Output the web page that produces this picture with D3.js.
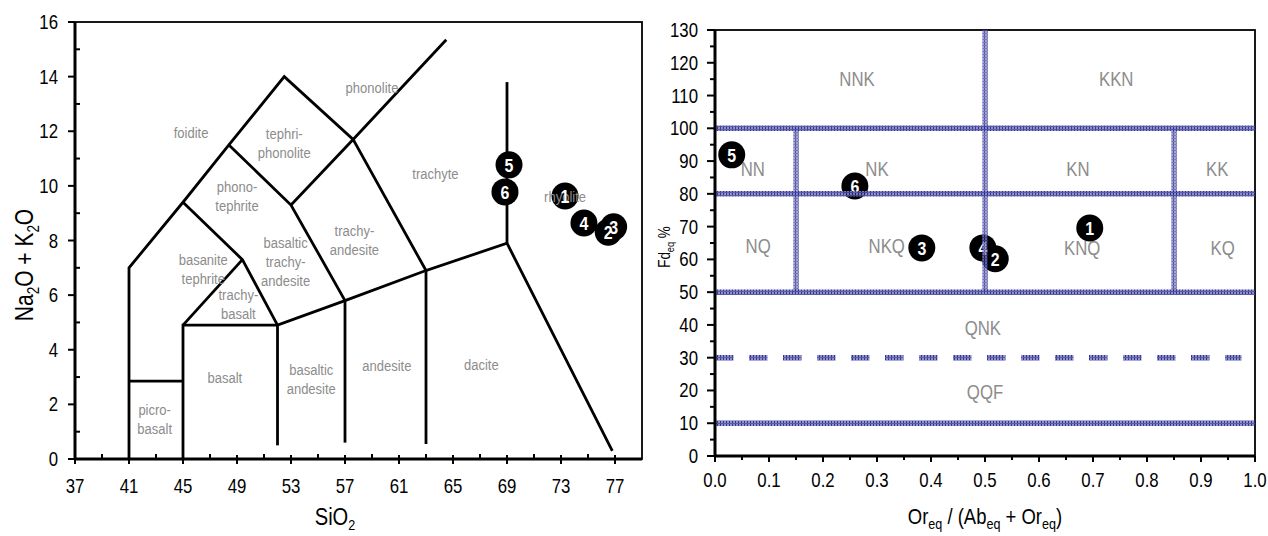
<!DOCTYPE html>
<html>
<head>
<meta charset="utf-8">
<script src="https://cdn.jsdelivr.net/npm/d3@7"></script>
<style>
body { margin: 0; background: #fff; }
svg text { font-family: "Liberation Sans", Arial, sans-serif; }
</style>
</head>
<body>
<svg id="chart"></svg>
<script>
var W = 1268, H = 536;

// ---- TAS diagram (left) ----
var tasLines = [
  [[41,0],[41,7],[45,9.4],[48.4,11.5],[52.5,14],[57.6,11.7],[63,6.9],[69,7.9],[76.8,0.3]],
  [[45,9.4],[49.4,7.3],[52,4.9]],
  [[45,4.9],[49.4,7.3]],
  [[45,0],[45,4.9],[52,4.9],[57,5.8],[63,6.9]],
  [[48.4,11.5],[53,9.3],[57,5.8]],
  [[53,9.3],[57.6,11.7],[64.5,15.35]],
  [[41,2.85],[45,2.85]],
  [[52,0.5],[52,4.9]],
  [[57,0.6],[57,5.8]],
  [[63,0.55],[63,6.9]],
  [[69,7.9],[69,13.8]]
];
var tasNames = [
  ["foidite"], ["phonolite"], ["tephri-","phonolite"], ["phono-","tephrite"],
  ["trachy-","andesite"], ["basaltic","trachy-","andesite"], ["basanite","tephrite"],
  ["trachy-","basalt"], ["basalt"], ["basaltic","andesite"], ["andesite"], ["dacite"],
  ["picro-","basalt"], ["trachyte"], ["rhyolite"]
];
var tasNameX = [45.6, 59.0, 52.5, 49.0, 57.7, 52.6, 46.5, 49.1, 48.1, 54.5, 60.1, 67.1, 42.9, 63.7, 73.3];
var tasNameY = [11.95, 13.6, 11.55, 9.6, 8.0, 7.2, 6.95, 5.65, 2.95, 2.9, 3.4, 3.45, 1.45, 10.45, 9.6];

var sampleIds = ["1","2","3","4","5","6"];
var sio2 = [73.3, 76.5, 76.9, 74.7, 69.15, 68.85];
var alkali = [9.63, 8.3, 8.5, 8.64, 10.77, 9.78];

var tasXTicks = [37,41,45,49,53,57,61,65,69,73,77];
var tasYTicks = [0,2,4,6,8,10,12,14,16];

// ---- Fd_eq vs Or_eq ratio diagram (right) ----
var orRatio = [0.694, 0.519, 0.383, 0.496, 0.031, 0.259];
var fdeq = [69.6, 60.2, 63.5, 63.5, 91.9, 82.4];

var hLineY = [100, 80, 50, 10];
var vLineX = [0.5, 0.15, 0.85];
var vLineY0 = [50, 50, 50];
var vLineY1 = [130, 100, 100];
var dashLineY = 30;

var fieldNames = ["NNK","KKN","NN","NK","KN","KK","NQ","NKQ","KNQ","KQ","QNK","QQF"];
var fieldX = [0.263, 0.743, 0.07, 0.30, 0.672, 0.93, 0.08, 0.318, 0.68, 0.94, 0.496, 0.5];
var fieldY = [115, 115, 87.5, 87.5, 87.5, 87.5, 64, 64, 63.5, 63.5, 39, 19.5];

var qXTicks = d3.range(0, 1.0001, 0.1);
var qYTicks = d3.range(0, 131, 10);

var svg = d3.select("#chart").attr("width", W).attr("height", H);

// crosshatch stroke like the spreadsheet pattern
var defs = svg.append("defs");
var pat = defs.append("pattern").attr("id", "hatch")
  .attr("patternUnits", "userSpaceOnUse").attr("width", 3).attr("height", 3);
pat.append("rect").attr("width", 3).attr("height", 3).attr("fill", "#8385c6");
pat.append("rect").attr("width", 1).attr("height", 3).attr("fill", "#1f2182");
pat.append("rect").attr("width", 3).attr("height", 1).attr("fill", "#4a4ca3");

var SX = 0.84;
function label(g, x, y, s, size, anchor, fill, weight) {
  return g.append("text")
    .attr("transform", "translate(" + x + "," + y + ") scale(" + SX + ",1)")
    .attr("text-anchor", anchor || "middle")
    .attr("font-size", size)
    .attr("font-weight", weight || "normal")
    .attr("fill", fill || "#000")
    .text(s);
}

function markers(g, xs, ys) {
  g.selectAll("circle.m").data(sampleIds).enter().append("circle").attr("class", "m")
    .attr("cx", function(d, i){ return xs(i); }).attr("cy", function(d, i){ return ys(i); })
    .attr("r", 13.5).attr("fill", "#000");
}
function markerText(g, xs, ys) {
  g.selectAll("text.m").data(sampleIds).enter().append("text").attr("class", "m")
    .attr("transform", function(d, i){ return "translate(" + xs(i) + "," + ys(i) + ") scale(" + SX + ",1)"; })
    .attr("text-anchor", "middle").attr("dy", "0.36em")
    .attr("font-size", 19).attr("font-weight", "bold").attr("fill", "#fff")
    .text(function(d){ return d; });
}

// ================= LEFT =================
var lx = d3.scaleLinear().domain([37, 79]).range([75, 642]);
var ly = d3.scaleLinear().domain([0, 16]).range([459, 22]);
var left = svg.append("g");

left.append("rect").attr("x", lx(37)).attr("y", ly(16))
  .attr("width", lx(79) - lx(37)).attr("height", ly(0) - ly(16))
  .attr("fill", "none").attr("stroke", "#000").attr("stroke-width", 1.8);

var line = d3.line().x(function(d){ return lx(d[0]); }).y(function(d){ return ly(d[1]); });
left.selectAll("path.tas").data(tasLines).enter().append("path")
  .attr("class", "tas")
  .attr("d", line)
  .attr("fill", "none").attr("stroke", "#000").attr("stroke-width", 2.8)
  .attr("stroke-linejoin", "miter");

var lxs = function(i){ return lx(sio2[i]); }, lys = function(i){ return ly(alkali[i]); };
markers(left, lxs, lys);

tasNames.forEach(function(lines, i) {
  var n = lines.length;
  lines.forEach(function(s, j) {
    label(left, lx(tasNameX[i]), ly(tasNameY[i]) + (j - (n - 1) / 2) * 19 + 5, s, 15.5, "middle", "#8c8c8c");
  });
});
markerText(left, lxs, lys);

// axes
left.append("line").attr("x1", lx(37)).attr("x2", lx(37)).attr("y1", ly(16)).attr("y2", ly(0))
  .attr("stroke", "#000").attr("stroke-width", 3);
left.append("line").attr("x1", lx(37)).attr("x2", lx(79)).attr("y1", ly(0)).attr("y2", ly(0))
  .attr("stroke", "#000").attr("stroke-width", 3);
tasXTicks.forEach(function(t) {
  left.append("line").attr("x1", lx(t)).attr("x2", lx(t)).attr("y1", ly(0) - 4).attr("y2", ly(0) + 5)
    .attr("stroke", "#000").attr("stroke-width", 2);
  if (t + 2 < 79) left.append("line").attr("x1", lx(t + 2)).attr("x2", lx(t + 2)).attr("y1", ly(0) - 5).attr("y2", ly(0))
    .attr("stroke", "#000").attr("stroke-width", 2);
  label(left, lx(t), 493, String(t), 20);
});
tasYTicks.forEach(function(t) {
  left.append("line").attr("x1", lx(37) - 7).attr("x2", lx(37)).attr("y1", ly(t)).attr("y2", ly(t))
    .attr("stroke", "#000").attr("stroke-width", 2);
  if (t < 16) left.append("line").attr("x1", lx(37)).attr("x2", lx(37) + 5).attr("y1", ly(t + 1)).attr("y2", ly(t + 1))
    .attr("stroke", "#000").attr("stroke-width", 2);
  label(left, 58, ly(t) + 7, String(t), 20, "end");
});

// axis titles
var xt = left.append("text").attr("transform", "translate(335,525) scale(" + SX + ",1)")
  .attr("text-anchor", "middle").attr("font-size", 24);
xt.append("tspan").text("SiO");
xt.append("tspan").attr("font-size", 15).attr("dy", 5).text("2");

var yt = left.append("text").attr("transform", "translate(33,265) rotate(-90) scale(" + SX + ",1)")
  .attr("text-anchor", "middle").attr("font-size", 25);
yt.append("tspan").text("Na");
yt.append("tspan").attr("font-size", 16).attr("dy", 6).text("2");
yt.append("tspan").attr("dy", -6).text("O + K");
yt.append("tspan").attr("font-size", 16).attr("dy", 6).text("2");
yt.append("tspan").attr("dy", -6).text("O");

// ================= RIGHT =================
var rx = d3.scaleLinear().domain([0, 1]).range([715, 1255]);
var ry = d3.scaleLinear().domain([0, 130]).range([456, 30]);
var right = svg.append("g");

right.append("rect").attr("x", rx(0)).attr("y", ry(130))
  .attr("width", rx(1) - rx(0)).attr("height", ry(0) - ry(130))
  .attr("fill", "none").attr("stroke", "#000").attr("stroke-width", 1.8);

fieldNames.forEach(function(s, i) {
  label(right, rx(fieldX[i]), ry(fieldY[i]) + 7, s, 20, "middle", "#8c8c8c");
});

// samples (drawn under the boundary lines)
var rxs = function(i){ return rx(orRatio[i]); }, rys = function(i){ return ry(fdeq[i]); };
markers(right, rxs, rys);
markerText(right, rxs, rys);

right.selectAll("line.h").data(hLineY).enter().append("line").attr("class", "h")
  .attr("x1", rx(0)).attr("x2", rx(1))
  .attr("y1", function(d){ return ry(d); }).attr("y2", function(d){ return ry(d); })
  .attr("stroke", "url(#hatch)").attr("stroke-width", 5.5).attr("opacity", 0.9);
right.selectAll("line.v").data(vLineX).enter().append("line").attr("class", "v")
  .attr("x1", function(d){ return rx(d); }).attr("x2", function(d){ return rx(d); })
  .attr("y1", function(d, i){ return ry(vLineY0[i]); }).attr("y2", function(d, i){ return ry(vLineY1[i]); })
  .attr("stroke", "url(#hatch)").attr("stroke-width", 5.5).attr("opacity", 0.75);
right.append("line").attr("x1", rx(0)).attr("x2", rx(0.975))
  .attr("y1", ry(dashLineY)).attr("y2", ry(dashLineY))
  .attr("stroke", "url(#hatch)").attr("stroke-width", 5.5).attr("opacity", 0.9)
  .attr("stroke-dasharray", "18.5,15.5");

// axes
right.append("line").attr("x1", rx(0)).attr("x2", rx(0)).attr("y1", ry(130)).attr("y2", ry(0))
  .attr("stroke", "#000").attr("stroke-width", 3);
right.append("line").attr("x1", rx(0)).attr("x2", rx(1)).attr("y1", ry(0)).attr("y2", ry(0))
  .attr("stroke", "#000").attr("stroke-width", 3);
qXTicks.forEach(function(t, i) {
  right.append("line").attr("x1", rx(t)).attr("x2", rx(t)).attr("y1", ry(0)).attr("y2", ry(0) + 6)
    .attr("stroke", "#000").attr("stroke-width", 2);
  if (i < qXTicks.length - 1) right.append("line").attr("x1", rx(t + 0.05)).attr("x2", rx(t + 0.05))
    .attr("y1", ry(0)).attr("y2", ry(0) + 4).attr("stroke", "#000").attr("stroke-width", 2);
  label(right, rx(t), 487, d3.format(".1f")(t), 20);
});
qYTicks.forEach(function(t, i) {
  right.append("line").attr("x1", rx(0) - 8).attr("x2", rx(0)).attr("y1", ry(t)).attr("y2", ry(t))
    .attr("stroke", "#000").attr("stroke-width", 2);
  if (t < 130) right.append("line").attr("x1", rx(0) - 5).attr("x2", rx(0)).attr("y1", ry(t + 5)).attr("y2", ry(t + 5))
    .attr("stroke", "#000").attr("stroke-width", 2);
  label(right, 698, ry(t) + 7, String(t), 20, "end");
});

var rxt = right.append("text").attr("transform", "translate(985,524) scale(" + SX + ",1)")
  .attr("text-anchor", "middle").attr("font-size", 22);
rxt.append("tspan").text("Or");
rxt.append("tspan").attr("font-size", 15).attr("dy", 5).text("eq");
rxt.append("tspan").attr("dy", -5).text(" / (Ab");
rxt.append("tspan").attr("font-size", 15).attr("dy", 5).text("eq");
rxt.append("tspan").attr("dy", -5).text(" + Or");
rxt.append("tspan").attr("font-size", 15).attr("dy", 5).text("eq");
rxt.append("tspan").attr("dy", -5).text(")");

var ryt = right.append("text").attr("transform", "translate(670,247) rotate(-90) scale(" + SX + ",1)")
  .attr("text-anchor", "middle").attr("font-size", 16);
ryt.append("tspan").text("Fd");
ryt.append("tspan").attr("font-size", 11).attr("dy", 4).text("eq");
ryt.append("tspan").attr("dy", -4).text(" %");
</script>
</body>
</html>
